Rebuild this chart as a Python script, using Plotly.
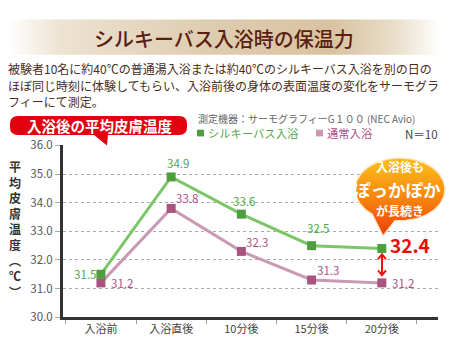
import numpy as np
import plotly.graph_objects as go

# ---------------- data ----------------
categories = ["入浴前", "入浴直後", "10分後", "15分後", "20分後"]
silky = [31.5, 34.9, 33.6, 32.5, 32.4]
normal = [31.2, 33.8, 32.3, 31.3, 31.2]
silky_name = "シルキーバス入浴"
normal_name = "通常入浴"
y_ticks = [30.0, 31.0, 32.0, 33.0, 34.0, 35.0, 36.0]

# label offsets (px) for data labels
silky_off = [(-16, 0), (7, 14), (3, 13), (6, 18), None]
normal_off = [(21, 0), (16, 10), (16, 9), (16, 10), (21, 0)]

FONT = "Noto Sans CJK JP"
GREEN_L, GREEN_M, GREEN_T = "#7cc569", "#4e9e40", "#52a744"
PURP_L, PURP_M, PURP_T = "#c99ab4", "#a8547f", "#b04f86"

W, H = 450, 350
PL, PR, PT, PB = 63, 438, 143, 323

fig = go.Figure()

# ---------- decorative layer (pixel coordinate overlay axes) ----------
fig.add_trace(go.Scatter(
    x=[8, 440, 440, 8, 8], y=[11, 11, 48, 48, 11], xaxis="x2", yaxis="y2",
    mode="lines", line=dict(width=0), fill="toself",
    fillgradient=dict(type="horizontal", colorscale=[
        [0, "#ffffff"], [0.12, "#ede3d1"], [0.45, "#dfcdb1"],
        [0.75, "#d8c2a0"], [0.9, "#eadfcb"], [1, "#ffffff"]]),
    hoverinfo="skip", showlegend=False))

cx, cy, rx, ry = 400, 189, 45, 33
th1 = np.arccos((395 - cx) / rx)
th2 = np.arccos((372 - cx) / rx)
ang_a = np.linspace(th2, th1 + 2 * np.pi, 120)
bx = list(cx + rx * np.cos(ang_a)) + [383]
by = list(cy + ry * np.sin(ang_a)) + [238]
bx.append(bx[0]); by.append(by[0])
fig.add_trace(go.Scatter(
    x=bx, y=by, xaxis="x2", yaxis="y2", mode="lines",
    line=dict(width=1.5, color="#ffe8c8"), fill="toself",
    fillgradient=dict(type="vertical", start=156, stop=236, colorscale=[
        [0, "#fbb81a"], [0.45, "#f7800e"], [1, "#ec2a0a"]]),
    hoverinfo="skip", showlegend=False))

# ---------- series ----------
fig.add_trace(go.Scatter(
    x=categories, y=normal, name=normal_name, mode="lines+markers",
    line=dict(color=PURP_L, width=3),
    marker=dict(symbol="square", size=9, color=PURP_M),
    showlegend=False, cliponaxis=False))
fig.add_trace(go.Scatter(
    x=categories, y=silky, name=silky_name, mode="lines+markers",
    line=dict(color=GREEN_L, width=3),
    marker=dict(symbol="square", size=9, color=GREEN_M),
    showlegend=False, cliponaxis=False))

ann = []
for i, (c, v) in enumerate(zip(categories, silky)):
    off = silky_off[i]
    if off is None:
        ann.append(dict(x=c, y=v, xref="x", yref="y", text=f"{v:.1f}",
                        showarrow=False, xshift=28, yshift=4,
                        font=dict(family=FONT, size=19, color="#ee0a0a", weight="bold")))
    else:
        ann.append(dict(x=c, y=v, xref="x", yref="y", text=f"{v:.1f}",
                        showarrow=False, xshift=off[0], yshift=off[1],
                        font=dict(family=FONT, size=11.5, color=GREEN_T)))
for i, (c, v) in enumerate(zip(categories, normal)):
    off = normal_off[i]
    ann.append(dict(x=c, y=v, xref="x", yref="y", text=f"{v:.1f}",
                    showarrow=False, xshift=off[0], yshift=off[1],
                    font=dict(family=FONT, size=11.5, color=PURP_T)))

def px(x, y, text, size, color, xanchor="center", weight="normal", **kw):
    d = dict(x=x, y=y, xref="x2", yref="y2", text=text, showarrow=False,
             xanchor=xanchor, yanchor="middle", borderpad=0,
             font=dict(family=FONT, size=size, color=color, weight=weight))
    d.update(kw)
    return d

ann.append(px(224, 31, "シルキーバス入浴時の保温力", 20, "#5a1e12", weight=500))
desc = ["被験者10名に約40℃の普通湯入浴または約40℃のシルキーバス入浴を別の日の",
        "ほぼ同じ時刻に体験してもらい、入浴前後の身体の表面温度の変化をサーモグラ",
        "フィーにて測定。"]
for j, line in enumerate(desc):
    ann.append(px(7, 62.6 + j * 17.4, line, 12, "#4a2c20", xanchor="left"))

ann.append(px(99, 122, "入浴後の平均皮膚温度", 14.5, "#ffffff", weight="bold"))
ann.append(px(197, 114.5, "測定機器：サーモグラフィーG１００ (NEC Avio)", 10, "#666666",
              xanchor="left"))
ann.append(px(207, 130, silky_name, 11.3, GREEN_T, xanchor="left"))
ann.append(px(326, 130, normal_name, 11.3, PURP_T, xanchor="left"))
ann.append(px(439, 131, "N＝10", 11.5, "#444444", xanchor="right"))

ann.append(px(400, 165.5, "入浴後も", 12, "#ffffff", weight="bold"))
ann.append(px(397, 189.5, "ぽっかぽか", 17.5, "#ffffff", weight="bold"))
ann.append(px(400, 211, "が長続き", 12, "#ffffff", weight="bold"))

# vertical y-axis title as one stacked text
ytitle = ["平", "均", "皮", "膚", "温", "度", "︵", "℃", "︶"]
ann.append(px(15, 231, "<br>".join(ytitle), 12, "#333333", weight="bold"))

shapes = [
    dict(type="path", xref="x2", yref="y2",
         path="M 18,112 L 179,112 Q 187,112 187,120 L 187,124 Q 187,132 179,132 "
              "L 108,132 L 107,143 L 94,132 L 18,132 Q 10,132 10,124 L 10,120 Q 10,112 18,112 Z",
         fillcolor="#e3000f", line=dict(width=0)),
    dict(type="rect", xref="x2", yref="y2", x0=197, x1=204, y0=126.5, y1=133.5,
         fillcolor=GREEN_M, line=dict(width=0)),
    dict(type="rect", xref="x2", yref="y2", x0=316, x1=323, y0=126.5, y1=133.5,
         fillcolor=PURP_L, line=dict(width=0)),
    dict(type="path", xref="x2", yref="y2",
         path="M 382,258 L 382,278 M 378,262 L 382,257 L 386,262 M 378,274 L 382,279 L 386,274",
         line=dict(color="#ee1111", width=2)),
]

fig.update_layout(
    width=W, height=H, margin=dict(l=0, r=0, t=0, b=0),
    paper_bgcolor="white", plot_bgcolor="rgba(0,0,0,0)",
    showlegend=False, annotations=ann, shapes=shapes,
    xaxis=dict(domain=[PL / W, PR / W], type="category", range=[-0.54, 4.8],
               showline=True, linecolor="#333333", linewidth=3,
               ticks="outside", ticklen=4, tickcolor="#999999", tickson="boundaries",
               showgrid=False, zeroline=False, anchor="y",
               tickfont=dict(family=FONT, size=11, color="#444444")),
    yaxis=dict(domain=[(H - PB) / H, (H - PT) / H], range=[30, 36],
               tickvals=y_ticks, tickformat=".1f",
               showline=True, linecolor="#333333", linewidth=3,
               ticks="outside", ticklen=5, tickcolor="#aaaaaa",
               showgrid=True, gridcolor="#aaaaaa", griddash="3px,3px", gridwidth=1,
               zeroline=False, anchor="x",
               tickfont=dict(family=FONT, size=11.5, color="#555555")),
    xaxis2=dict(domain=[0, 1], range=[0, W], visible=False, anchor="y2", fixedrange=True),
    yaxis2=dict(domain=[0, 1], range=[H, 0], visible=False, anchor="x2", fixedrange=True),
)

fig.write_html("out.html")
